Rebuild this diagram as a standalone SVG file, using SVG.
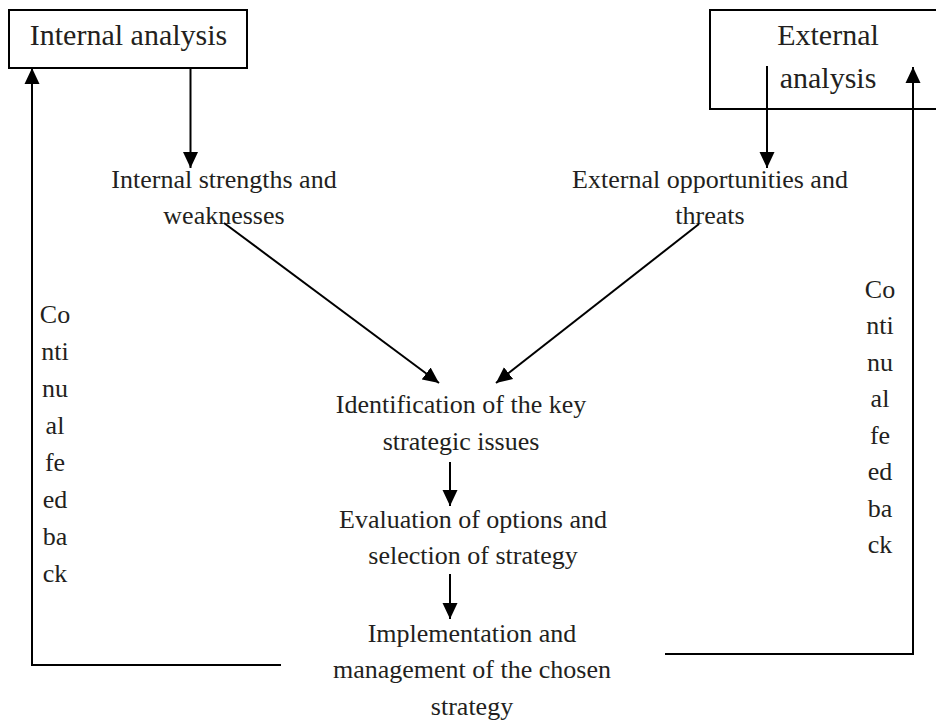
<svg xmlns="http://www.w3.org/2000/svg" width="936" height="722" viewBox="0 0 936 722">
<style>
.big{font-size:30px}
.t{font-size:26px}
.box{fill:#fff;stroke:#000;stroke-width:2}
.ln{fill:none;stroke:#000;stroke-width:2}
</style>
<defs>
<marker id="ah" markerWidth="16" markerHeight="16" viewBox="0 0 16 16" refX="16" refY="8" orient="auto" markerUnits="userSpaceOnUse">
<path d="M0,0.5 L16,8 L0,15.5 z" fill="#000"/>
</marker>
</defs>
<rect width="936" height="722" fill="#fff"/>
<g font-family="Liberation Serif, Times New Roman, serif" fill="#231f20" text-anchor="middle">
<g id="internal-analysis">
<rect class="box" x="9" y="10" width="238" height="58"/>
<text class="big" x="128.5" y="45">Internal analysis</text>
</g>
<g id="external-analysis">
<rect class="box" x="710" y="10" width="240" height="99"/>
<text class="big" x="828" y="45">External</text>
<text class="big" x="828" y="88">analysis</text>
</g>
<g id="internal-sw">
<text class="t" x="224" y="188">Internal strengths and</text>
<text class="t" x="224" y="224">weaknesses</text>
</g>
<g id="external-ot">
<text class="t" x="710" y="188">External opportunities and</text>
<text class="t" x="710" y="224">threats</text>
</g>
<g id="key-issues">
<text class="t" x="461" y="413">Identification of the key</text>
<text class="t" x="461" y="450">strategic issues</text>
</g>
<g id="evaluation">
<text class="t" x="473" y="528">Evaluation of options and</text>
<text class="t" x="473" y="564">selection of strategy</text>
</g>
<g id="implementation">
<text class="t" x="472" y="642">Implementation and</text>
<text class="t" x="472" y="678">management of the chosen</text>
<text class="t" x="472" y="715">strategy</text>
</g>
<g id="feedback-left">
<text class="t" x="55" y="323">Co</text>
<text class="t" x="55" y="360">nti</text>
<text class="t" x="55" y="397">nu</text>
<text class="t" x="55" y="434">al</text>
<text class="t" x="55" y="471">fe</text>
<text class="t" x="55" y="508">ed</text>
<text class="t" x="55" y="545">ba</text>
<text class="t" x="55" y="582">ck</text>
</g>
<g id="feedback-right">
<text class="t" x="880" y="298">Co</text>
<text class="t" x="880" y="334">nti</text>
<text class="t" x="880" y="371">nu</text>
<text class="t" x="880" y="407">al</text>
<text class="t" x="880" y="444">fe</text>
<text class="t" x="880" y="480">ed</text>
<text class="t" x="880" y="517">ba</text>
<text class="t" x="880" y="553">ck</text>
</g>
</g>
<g id="connectors">
<line class="ln" x1="190.5" y1="68" x2="190.5" y2="168" marker-end="url(#ah)"/>
<line class="ln" x1="767" y1="66" x2="767" y2="168" marker-end="url(#ah)"/>
<line class="ln" x1="224" y1="223" x2="439" y2="383" marker-end="url(#ah)"/>
<line class="ln" x1="699" y1="224" x2="496" y2="383" marker-end="url(#ah)"/>
<line class="ln" x1="450" y1="462" x2="450" y2="506" marker-end="url(#ah)"/>
<line class="ln" x1="450" y1="574" x2="450" y2="619" marker-end="url(#ah)"/>
<polyline class="ln" points="281,665 32,665 32,68" marker-end="url(#ah)"/>
<polyline class="ln" points="665,654 913,654 913,67" marker-end="url(#ah)"/>
</g>
</svg>
